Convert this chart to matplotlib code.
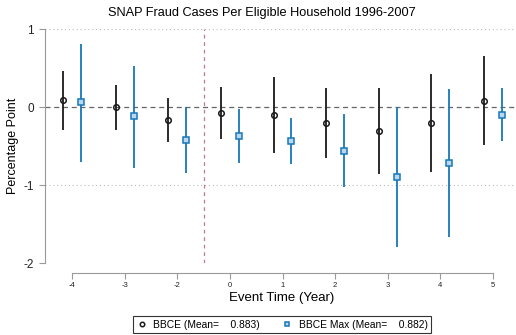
import matplotlib
matplotlib.use('Agg')
import matplotlib.pyplot as plt
import numpy as np

plt.rcParams['font.family'] = ['Liberation Sans', 'DejaVu Sans']

# event time labels (t = -1 is the omitted reference year)
tick_labels = ['-4', '-3', '-2', '0', '1', '2', '3', '4', '5']

# BBCE estimates and 95% CI
bbce = [0.09, 0.00, -0.17, -0.08, -0.10, -0.21, -0.31, -0.20, 0.08]
bbce_lo = [-0.29, -0.29, -0.45, -0.41, -0.59, -0.66, -0.86, -0.83, -0.49]
bbce_hi = [0.46, 0.28, 0.11, 0.26, 0.38, 0.24, 0.25, 0.42, 0.65]

# BBCE Max estimates and 95% CI
bmax = [0.06, -0.12, -0.42, -0.37, -0.44, -0.56, -0.90, -0.72, -0.10]
bmax_lo = [-0.70, -0.78, -0.85, -0.72, -0.73, -1.02, -1.80, -1.67, -0.44]
bmax_hi = [0.81, 0.53, 0.00, -0.03, -0.14, -0.09, 0.00, 0.23, 0.24]

mean_bbce = 0.883
mean_bmax = 0.882

BLUE = '#1878b8'
GRID = '#bbbbbb'
AXC = '#999999'

fig = plt.figure(figsize=(5.16, 3.35), dpi=100)
ax = fig.add_axes([45/516, (335-263)/335, 1 - 45/516, 234/335])

x = np.arange(1, len(tick_labels) + 1)
off = 0.17

# gridlines
for gy in [1, -1, -2]:
    ax.axhline(gy, color=GRID, lw=0.8, ls=(0, (1, 2.5)), zorder=0)
ax.axhline(0, color='#666666', lw=0.9, ls=(0, (4, 3)), zorder=1)
ax.axvline(3.5, color='#c07890', lw=0.9, ls=(0, (3, 3)), zorder=1)

ax.vlines(x - off, bbce_lo, bbce_hi, color='#1a1a1a', lw=1.3, zorder=2)
ax.plot(x - off, bbce, 'o', ms=4, mfc='none', mec='#1a1a1a', mew=1.1, zorder=3,
        label='BBCE (Mean=    %.3f)' % mean_bbce)
ax.vlines(x + off, bmax_lo, bmax_hi, color=BLUE, lw=1.3, zorder=2)
ax.plot(x + off, bmax, 's', ms=4, mfc='#b9d7ee', mec=BLUE, mew=1.1, zorder=3,
        label='BBCE Max (Mean=    %.3f)' % mean_bmax)

ax.set_xlim(1 - 27/52.625, 9 + 23/52.625)
ax.set_ylim(-2, 1)

ax.spines['top'].set_visible(False)
ax.spines['right'].set_visible(False)
ax.spines['left'].set_color(AXC)
ax.spines['bottom'].set_color(AXC)
ax.spines['bottom'].set_position(('outward', 7))
ax.spines['bottom'].set_bounds(1, 9)
ax.spines['left'].set_bounds(-2, 1)

ax.set_yticks([1, 0, -1, -2])
ax.set_yticklabels(['1', '0', '-1', '-2'], fontsize=8.5)
ax.set_xticks(x)
ax.set_xticklabels(tick_labels, fontsize=5.5)
ax.tick_params(axis='both', colors=AXC, labelcolor='#222222', length=4, width=0.8)
ax.tick_params(axis='y', pad=4)
ax.tick_params(axis='x', pad=3)

fig.text(13/516, 1 - 145.5/335, 'Percentage Point', rotation=90,
         ha='center', va='center', fontsize=9)
fig.text(282/516, 1 - 298/335, 'Event Time (Year)', ha='center', va='center',
         fontsize=9.5)
fig.text(262/516, 1 - 13/335, 'SNAP Fraud Cases Per Eligible Household 1996-2007',
         ha='center', va='center', fontsize=9.2)

leg = fig.legend(loc='upper center', bbox_to_anchor=(282/516, 1 - 316/335), ncol=2,
                 fontsize=7.4, frameon=True, fancybox=False, edgecolor='black',
                 handletextpad=0.6, columnspacing=2.2, borderpad=0.35, handlelength=1.0,
                 markerscale=0.8, borderaxespad=0)
leg.get_frame().set_linewidth(0.8)

fig.savefig('out.png', dpi=100)
